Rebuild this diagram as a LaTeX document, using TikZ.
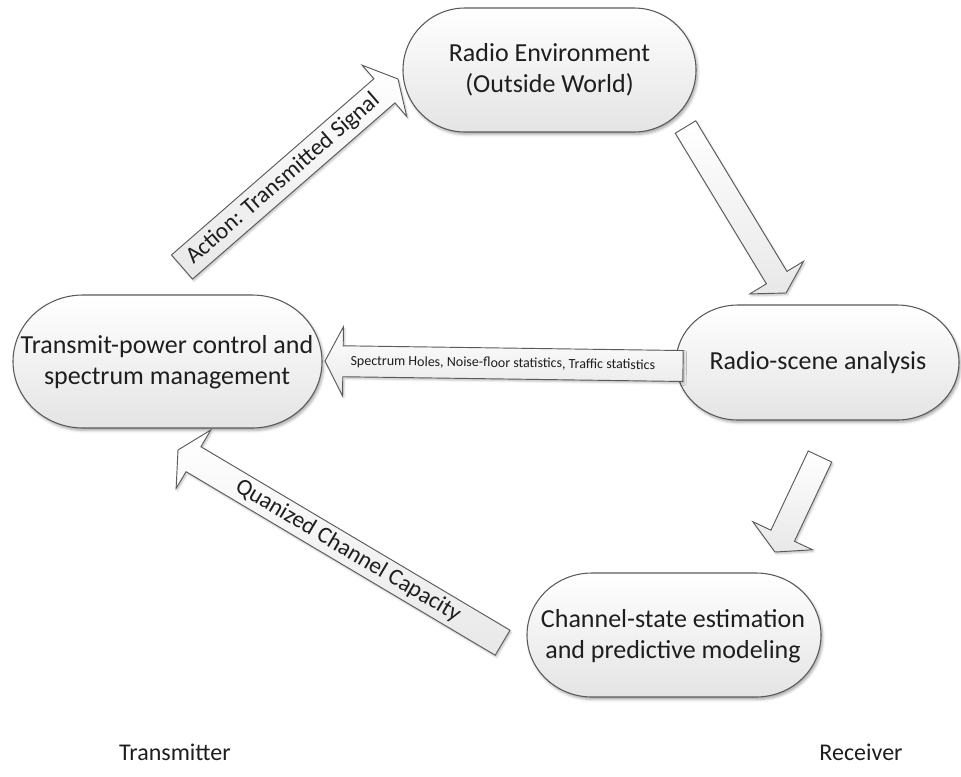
\documentclass[tikz,border=0pt]{standalone}
\usepackage{fontspec}
\setmainfont{Carlito}
\usetikzlibrary{calc,shadows.blur}

\definecolor{edgegray}{HTML}{5A5A5A}
\definecolor{fillbot}{HTML}{E4E4E4}
\definecolor{inktext}{HTML}{1E1E1E}

\tikzset{
  bubble/.style={draw=edgegray, line width=0.8pt, top color=white, bottom color=fillbot,
    blur shadow={shadow xshift=1.2pt, shadow yshift=-1.8pt, shadow blur radius=2pt, shadow opacity=35}},
  arrowshape/.style={draw=edgegray, line width=0.7pt, top color=white, bottom color=fillbot!85,
    blur shadow={shadow xshift=1pt, shadow yshift=-1.4pt, shadow blur radius=1.5pt, shadow opacity=25}},
  boxtext/.style={font=\fontsize{19.5}{23.5}\selectfont, align=center, text=inktext, inner sep=0pt},
  arrowtext/.style={font=\fontsize{17.5}{20}\selectfont, text=inktext, inner sep=0pt},
  smalltext/.style={font=\fontsize{10.5}{12}\selectfont, text=inktext, inner sep=0pt},
  sidetext/.style={font=\fontsize{18}{22}\selectfont, text=inktext, inner sep=0pt},
}

% block arrow: #1 name prefix, #2 half shaft width, #3 half head width, #4 head length
\newcommand\blockarrow[4]{%
  \coordinate (#1-b) at ($(#1-tip)!#4!(#1-tail)$);
  \draw[arrowshape] ($(#1-tail)!#2!90:(#1-tip)$) -- ($(#1-b)!#2!-90:(#1-tail)$)
    -- ($(#1-b)!#3!-90:(#1-tail)$) -- (#1-tip) -- ($(#1-b)!#3!90:(#1-tail)$)
    -- ($(#1-b)!#2!90:(#1-tail)$) -- ($(#1-tail)!#2!-90:(#1-tip)$) -- cycle;
}

\begin{document}
\begin{tikzpicture}[x=0.75pt, y=0.75pt]
\useasboundingbox (0,0) rectangle (961,-776);

% ---- rounded boxes (elliptical ends) ----
\path[bubble] (465,-8) -- (634,-8) arc[start angle=90, end angle=-90, x radius=62, y radius=62]
  -- (465,-132) arc[start angle=270, end angle=90, x radius=62, y radius=62] -- cycle;
\node[boxtext] (env) at (549.5,-70) {Radio Environment\\(Outside World)};

\path[bubble] (83,-295) -- (252,-295) arc[start angle=90, end angle=-90, x radius=70, y radius=66.5]
  -- (83,-428) arc[start angle=270, end angle=90, x radius=70, y radius=66.5] -- cycle;
\node[boxtext] (tx) at (167,-362) {Transmit-power control and\\spectrum management};

\path[bubble] (738,-305) -- (897,-305) arc[start angle=90, end angle=-90, x radius=62, y radius=57.5]
  -- (738,-420) arc[start angle=270, end angle=90, x radius=62, y radius=57.5] -- cycle;
\node[boxtext] (scene) at (818,-363) {Radio-scene analysis};

\path[bubble] (592,-573) -- (756,-573) arc[start angle=90, end angle=-90, x radius=65, y radius=62]
  -- (592,-697) arc[start angle=270, end angle=90, x radius=65, y radius=62] -- cycle;
\node[boxtext] (chan) at (673,-636) {Channel-state estimation\\and predictive modeling};

% ---- block arrows ----
\coordinate (act-tail) at (182,-267);
\coordinate (act-tip) at (398,-79);
\blockarrow{act}{12pt}{25.5pt}{13.5pt}
\path (act-tail) -- (act-b) node[midway, sloped, arrowtext] {Action: Transmitted Signal};

\coordinate (dn-tail) at (685.5,-127);
\coordinate (dn-tip) at (786,-293);
\blockarrow{dn}{9pt}{23.6pt}{13.5pt}

\coordinate (sp-tail) at (683,-366);
\coordinate (sp-tip) at (325,-361);
\blockarrow{sp}{11.6pt}{25.9pt}{13.5pt}
\path (sp-tail) -- (sp-b) node[pos=0.53, sloped, smalltext] {Spectrum Holes, Noise-floor statistics, Traffic statistics};

\coordinate (dl-tail) at (820,-456.5);
\coordinate (dl-tip) at (775,-552);
\blockarrow{dl}{9.75pt}{24.75pt}{13.5pt}

\coordinate (qc-tail) at (502.6,-642.7);
\coordinate (qc-tip) at (178,-450);
\blockarrow{qc}{10.9pt}{25.5pt}{13.5pt}
\path (qc-tail) -- (qc-b) node[midway, sloped, arrowtext] {Quanized Channel Capacity};

% ---- side labels ----
\node[sidetext] (txlabel) at (175,-752) {Transmitter};
\node[sidetext] (rxlabel) at (861,-752) {Receiver};
\end{tikzpicture}
\end{document}
